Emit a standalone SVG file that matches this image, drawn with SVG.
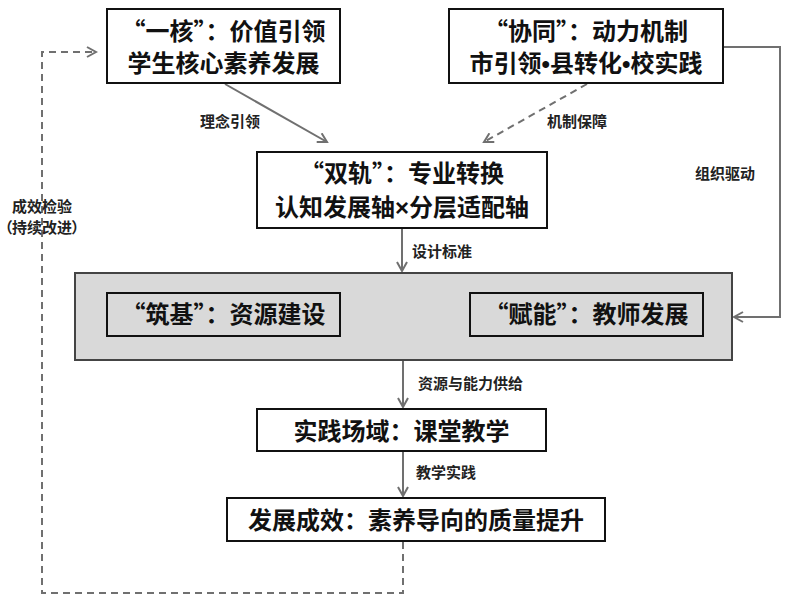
<svg xmlns="http://www.w3.org/2000/svg" width="786" height="600" viewBox="0 0 786 600">
<style>
.box{fill:#fff;stroke:#111;stroke-width:2}
.grp{fill:#d9d9d9;stroke:#444;stroke-width:2}
.inner{fill:#d9d9d9;stroke:#111;stroke-width:2}
.t{font-family:"Noto Sans CJK SC","Noto Sans",sans-serif;font-weight:bold;font-size:24px;fill:#111;text-anchor:middle}
.lb{font-family:"Noto Sans CJK SC","Noto Sans",sans-serif;font-weight:bold;font-size:15px;fill:#222}
.palt{font-feature-settings:"palt" 1}
.lat{font-family:"Liberation Sans",sans-serif}
.ln{fill:none;stroke:#707070;stroke-width:2}
.dash{stroke-dasharray:7 5}
</style>
<defs>
<marker id="ah" markerWidth="12" markerHeight="12" refX="10" refY="6" orient="auto" markerUnits="userSpaceOnUse">
<path d="M1,1 L10,6 L1,11" fill="none" stroke="#707070" stroke-width="2"/>
</marker>
</defs>
<rect x="0" y="0" width="786" height="600" fill="#fff"/>
<g id="connectors">
<line class="ln" x1="225" y1="84" x2="327" y2="142" marker-end="url(#ah)"/>
<line class="ln dash" x1="587" y1="84" x2="484" y2="142" stroke="#9a9a9a" marker-end="url(#ah)"/>
<polyline class="ln" points="724,47 780,47 780,317 734,317" marker-end="url(#ah)"/>
<line class="ln" x1="402" y1="229" x2="402" y2="271" marker-end="url(#ah)"/>
<line class="ln" x1="403" y1="361" x2="403" y2="407" marker-end="url(#ah)"/>
<line class="ln" x1="403" y1="452" x2="403" y2="496" marker-end="url(#ah)"/>
<polyline class="ln dash" points="403,542 403,593 42,593 42,52 96,52" marker-end="url(#ah)"/>
<text class="lb" x="200" y="127">理念引领</text>
<text class="lb" x="547" y="127">机制保障</text>
<text class="lb" x="695" y="179">组织驱动</text>
<text class="lb" x="412" y="257">设计标准</text>
<text class="lb" x="418" y="389">资源与能力供给</text>
<text class="lb" x="416" y="478">教学实践</text>
<text class="lb" x="42" y="212" text-anchor="middle">成效检验</text>
<text class="lb palt" x="42" y="233" text-anchor="middle">（持续改进）</text>
</g>
<g id="node-yihe">
<rect class="box" x="107" y="9" width="233" height="74"/>
<text class="t" x="223.5" y="40">“一核”：价值引领</text>
<text class="t" x="223.5" y="72">学生核心素养发展</text>
</g>
<g id="node-xietong">
<rect class="box" x="449" y="9" width="274" height="74"/>
<text class="t" x="586" y="40">“协同”：动力机制</text>
<text class="t" x="586" y="72">市引领<tspan class="lat">•</tspan>县转化<tspan class="lat">•</tspan>校实践</text>
</g>
<g id="node-shuanggui">
<rect class="box" x="257" y="152" width="290" height="76"/>
<text class="t" x="402" y="182">“双轨”：专业转换</text>
<text class="t" x="402" y="216">认知发展轴<tspan class="lat">×</tspan>分层适配轴</text>
</g>
<g id="node-group">
<rect class="grp" x="75" y="273" width="657" height="87"/>
</g>
<g id="node-zhuji">
<rect class="inner" x="107" y="293" width="233" height="43"/>
<text class="t" x="223.5" y="323">“筑基”：资源建设</text>
</g>
<g id="node-funeng">
<rect class="inner" x="470" y="293" width="233" height="43"/>
<text class="t" x="586.5" y="323">“赋能”：教师发展</text>
</g>
<g id="node-shijian">
<rect class="box" x="257" y="409" width="289" height="42"/>
<text class="t" x="401.5" y="440">实践场域：课堂教学</text>
</g>
<g id="node-chengxiao">
<rect class="box" x="227" y="498" width="378" height="43"/>
<text class="t" x="416" y="529">发展成效：素养导向的质量提升</text>
</g>
</svg>
